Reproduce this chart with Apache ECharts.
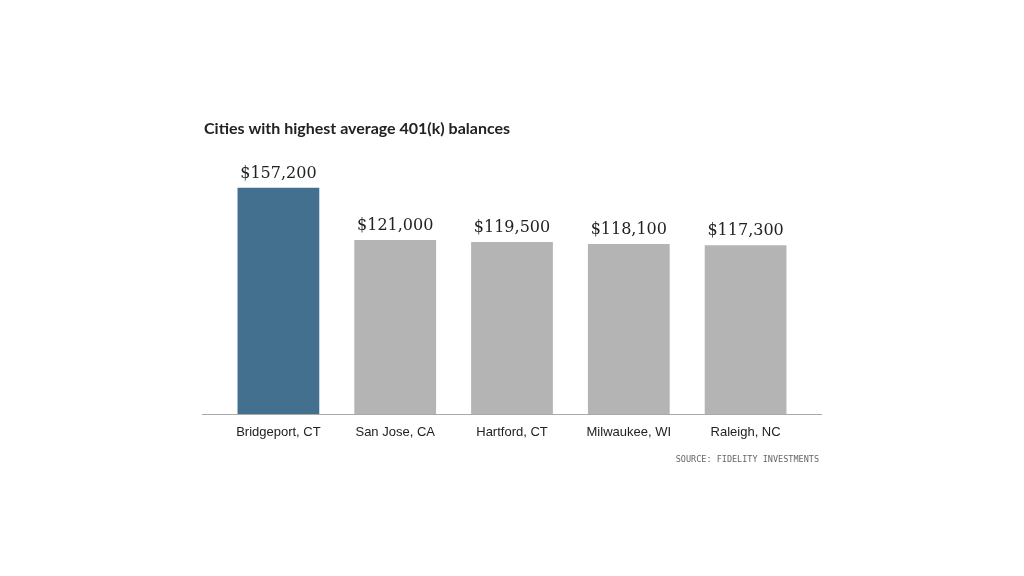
<!DOCTYPE html>
<html><head><meta charset="utf-8">
<script src="https://cdn.jsdelivr.net/npm/echarts@6/dist/echarts.min.js"></script>
<style>html,body{margin:0;padding:0;background:#fff}#c{width:1024px;height:576px}</style>
</head><body><div id="c"></div>
<script>
const categories = ["Bridgeport, CT", "San Jose, CA", "Hartford, CT", "Milwaukee, WI", "Raleigh, NC"];
const balances = [157200, 121000, 119500, 118100, 117300];
const highlightIndex = 0;
const titleText = "Cities with highest average 401(k) balances";
const sourceText = "SOURCE: FIDELITY INVESTMENTS";

const chart = echarts.init(document.getElementById('c'));
chart.setOption({
  animation: false,
  backgroundColor: '#fff',
  title: [{
    text: titleText, left: 199, top: 116,
    textStyle: {fontFamily: 'Lato', fontWeight: 'bold', fontSize: 16, color: '#222'}
  }, {
    text: sourceText, right: 200, top: 450,
    textStyle: {fontFamily: 'DejaVu Sans Mono', fontWeight: 'normal', fontSize: 8.5, color: '#666'}
  }],
  grid: {left: 220, right: 220, top: 155, bottom: 162},
  xAxis: {
    type: 'category', data: categories,
    axisLine: {show: false}, axisTick: {show: false},
    axisLabel: {interval: 0, fontFamily: 'Liberation Sans', fontSize: 13, color: '#222', margin: 12}
  },
  yAxis: {type: 'value', min: 0, max: 180000, show: false, splitLine: {show: false}},
  series: [{
    type: 'bar', barWidth: '70%',
    data: balances.map((v, i) => ({value: v, itemStyle: {color: i === highlightIndex ? '#44708f' : '#b4b4b4'}})),
    label: {
      show: true, position: 'top', distance: 6,
      fontFamily: 'DejaVu Serif', fontSize: 16, color: '#222',
      formatter: p => '$' + p.value.toLocaleString('en-US')
    }
  }],
  graphic: [{
    type: 'line', shape: {x1: 202, y1: 414.5, x2: 822, y2: 414.5},
    style: {stroke: '#aaa', lineWidth: 1}
  }]
});
</script></body></html>
